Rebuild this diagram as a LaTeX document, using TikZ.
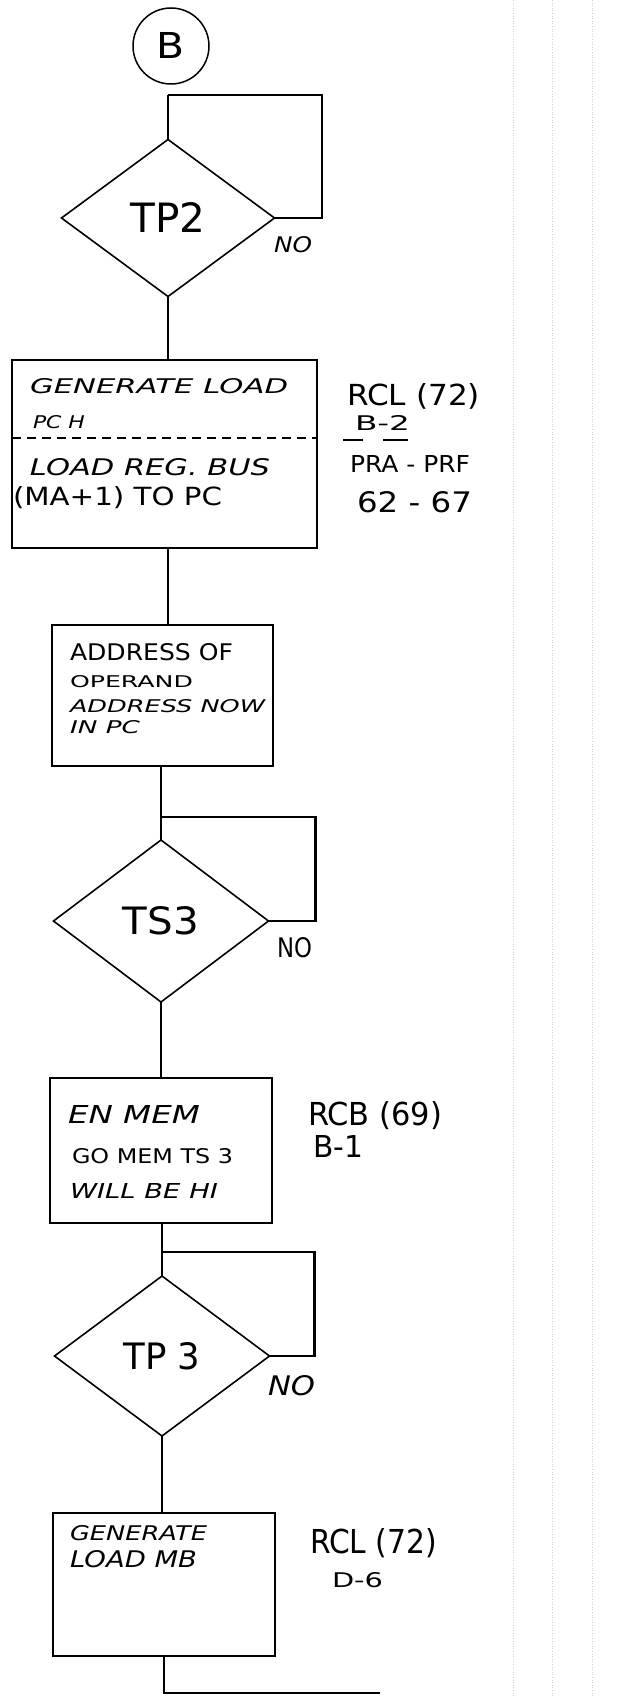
\documentclass[tikz,border=0pt]{standalone}
\usepackage{fontspec}
\setmainfont{DejaVu Sans}
\usepackage{graphicx}
\usetikzlibrary{shapes.geometric,calc}
\newcommand{\hw}[3]{\resizebox{#1pt}{#2pt}{#3}}
\begin{document}
\begin{tikzpicture}[x=1pt,y=-1pt,
  box/.style={draw,rectangle,line width=1.8pt,inner sep=0pt,outer sep=0pt},
  dec/.style={draw,diamond,line width=1.6pt,inner sep=0pt,outer sep=0pt},
  wire/.style={line width=2.4pt},
  txt/.style={inner sep=0pt,outer sep=0pt,anchor=base west},
  grid/.style={gray!35,line width=0.6pt,dotted}
]
\useasboundingbox (0,0) rectangle (616,1696);
\fill[white] (0,0) rectangle (616,1696);
% faint grid-paper traces
\draw[grid] (513,0) -- (513,1696);
\draw[grid] (552,0) -- (552,1696);
\draw[grid] (592,0) -- (592,1696);

% connector circle
\node[draw,circle,line width=1.5pt,minimum size=76pt,inner sep=0pt] (start) at (171,46) {\hw{28}{26}{B}};

% TP2 decision
\coordinate (j1) at (168,95);
\node[dec,minimum width=213pt,minimum height=157pt] (tp2) at (168,218) {\hw{75}{30}{TP2}};
\node[txt] (no1) at (274,253) {\hw{38}{16}{\itshape NO}};

% Box 1
\node[box,minimum width=305pt,minimum height=188pt] (box1) at (164.5,454) {};
\node[txt] (b1a) at (30,393) {\hw{258}{15}{\itshape GENERATE LOAD}};
\node[txt] (b1b) at (33,428) {\hw{52}{13}{\itshape PC H}};
\node[txt] (b1c) at (30,475) {\hw{240}{17}{\itshape LOAD REG. BUS}};
\node[txt] (b1d) at (13,505) {\hw{209}{19}{(MA+1) TO PC}};
\draw[line width=1.2pt,dash pattern=on 9pt off 6pt] (box1.west |- 0,438) -- (box1.east |- 0,438);
\node[txt] (a1a) at (347,405) {\hw{133}{22}{RCL (72)}};
\node[txt] (a1b) at (355,430) {\hw{55}{15}{B-2}};
\draw[line width=1.3pt] (343,440) -- (363,440);
\draw[line width=1.3pt] (383,440) -- (408,440);
\node[txt] (a1c) at (350,472) {\hw{120}{17}{PRA - PRF}};
\node[txt] (a1d) at (357,512) {\hw{115}{21}{62 - 67}};

% Box 2
\node[box,minimum width=221pt,minimum height=141pt] (box2) at (162.5,695.5) {};
\node[txt] (b2a) at (70,660) {\hw{163}{17}{ADDRESS OF}};
\node[txt] (b2b) at (70,687) {\hw{123}{12}{OPERAND}};
\node[txt] (b2c) at (70,712) {\hw{195}{13}{\itshape ADDRESS NOW}};
\node[txt] (b2d) at (70,733) {\hw{70}{13}{\itshape IN PC}};

% TS3 decision
\coordinate (j2) at (161,817);
\node[dec,minimum width=215pt,minimum height=162pt] (ts3) at (161,921) {\hw{76}{28}{TS3}};
\node[txt] (no2) at (277,957) {\hw{35}{20}{NO}};

% Box 3
\node[box,minimum width=222pt,minimum height=145pt] (box3) at (161,1150.5) {};
\node[txt] (b3a) at (68,1123) {\hw{132}{18}{\itshape EN MEM}};
\node[txt] (b3b) at (72,1163) {\hw{161}{15}{GO MEM TS 3}};
\node[txt] (b3c) at (70,1198) {\hw{148}{15}{\itshape WILL BE HI}};
\node[txt] (a3a) at (308,1125) {\hw{134}{24}{RCB (69)}};
\node[txt] (a3b) at (313,1157) {\hw{50}{22}{B-1}};

% TP3 decision
\coordinate (j3) at (162,1252);
\node[dec,minimum width=215pt,minimum height=160pt] (tp3) at (162,1356) {\hw{77}{27}{TP 3}};
\node[txt] (no3) at (268,1395) {\hw{47}{20}{\itshape NO}};

% Box 4
\node[box,minimum width=222pt,minimum height=143pt] (box4) at (164,1584.5) {};
\node[txt] (b4a) at (70,1540) {\hw{137}{15}{\itshape GENERATE}};
\node[txt] (b4b) at (70,1567) {\hw{127}{17}{\itshape LOAD MB}};
\node[txt] (a4a) at (310,1553) {\hw{127}{25}{RCL (72)}};
\node[txt] (a4b) at (332,1587) {\hw{51}{15}{D-6}};

\coordinate (exit) at (380,1693);

% connectors
\draw[wire] (j1) -- (tp2.north);
\draw[wire] (tp2.east) -- ++(47.5,0) |- (j1);
\draw[wire] (tp2.south) -- (tp2.south |- box1.north);
\draw[wire] (tp2.south |- box1.south) -- (tp2.south |- box2.north);
\draw[wire] (ts3.north |- box2.south) -- (ts3.north);
\draw[wire] (ts3.east) -- ++(47,0) |- (j2);
\draw[wire] (ts3.south) -- (ts3.south |- box3.north);
\draw[wire] (tp3.north |- box3.south) -- (tp3.north);
\draw[wire] (tp3.east) -- ++(45,0) |- (j3);
\draw[wire] (tp3.south) -- (tp3.south |- box4.north);
\draw[wire] (box4.south) |- (exit);
\end{tikzpicture}
\end{document}
